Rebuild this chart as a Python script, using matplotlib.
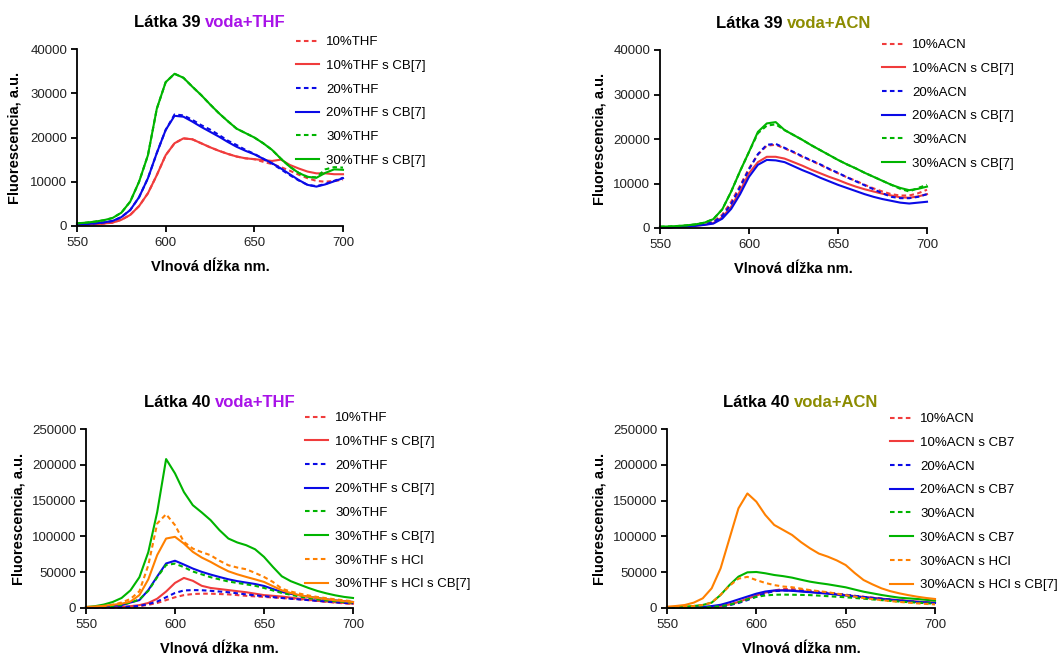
import matplotlib
matplotlib.use("Agg")
import matplotlib.pyplot as plt
import numpy as np

plt.rcParams['font.family'] = ['Liberation Sans', 'DejaVu Sans']

# ---------------- data ----------------
wl = [550, 555, 560, 565, 570, 575, 580, 585, 590, 595, 600, 605, 610, 615, 620, 625,
      630, 635, 640, 645, 650, 655, 660, 665, 670, 675, 680, 685, 690, 695, 700]

# Látka 39, voda+THF
l39thf_10 = [200, 300, 400, 550, 750, 1400, 2500, 4500, 7400, 11500, 16000, 18700, 19800, 19600, 18700, 17800,
             17000, 16300, 15700, 15300, 15100, 14500, 14000, 13300, 12500, 11600, 10800, 10200, 10000, 10200, 10400]
l39thf_10cb = [200, 300, 400, 550, 750, 1400, 2500, 4500, 7400, 11500, 16000, 18700, 19800, 19600, 18700, 17800,
               17000, 16300, 15700, 15300, 15100, 14900, 14700, 15000, 13800, 13000, 12300, 11900, 11900, 11700, 11700]
l39thf_20 = [380, 450, 600, 800, 1130, 2000, 3600, 6500, 10800, 16500, 21700, 25200, 25000, 24000, 22800, 21800,
             20600, 19300, 18300, 17200, 16300, 15200, 14100, 12800, 11500, 10300, 9300, 9000, 9500, 10200, 10900]
l39thf_20cb = [380, 450, 600, 800, 1130, 2000, 3600, 6500, 10800, 16500, 21700, 24900, 24700, 23600, 22400, 21300,
               20200, 19000, 17900, 17000, 16200, 15200, 14200, 13000, 11700, 10400, 9300, 8900, 9400, 10100, 10800]
l39thf_30 = [600, 750, 980, 1300, 1800, 3000, 5500, 10000, 16000, 26500, 32500, 34400, 33500, 31500, 29600, 27500,
             25500, 23700, 22000, 21000, 20000, 18700, 17200, 15200, 13400, 12000, 11100, 11000, 12800, 13300, 13200]
l39thf_30cb = [600, 750, 980, 1300, 1800, 3000, 5500, 10000, 16000, 26500, 32500, 34400, 33500, 31500, 29600, 27500,
               25500, 23700, 22000, 21000, 20000, 18700, 17200, 15200, 13400, 12000, 11100, 10900, 12000, 12800, 12700]

# Látka 39, voda+ACN
l39acn_10 = [100, 150, 300, 400, 600, 900, 1400, 3000, 5900, 9500, 13400, 16500, 18500, 18700, 17900, 17000,
             16000, 15100, 14200, 13200, 12300, 11400, 10600, 9700, 8900, 8200, 7600, 7300, 7300, 7800, 8600]
l39acn_10cb = [100, 150, 250, 350, 500, 750, 1100, 2400, 4800, 8300, 12300, 14800, 16000, 16000, 15600, 14800,
               14000, 13100, 12300, 11500, 10800, 10000, 9300, 8700, 8200, 7700, 7300, 6900, 6800, 7100, 7600]
l39acn_20 = [100, 150, 250, 400, 550, 850, 1300, 2700, 5400, 9200, 13200, 16600, 18700, 18900, 18000, 17100,
             16100, 15200, 14300, 13300, 12400, 11400, 10500, 9600, 8700, 7800, 7000, 6700, 6700, 7000, 7600]
l39acn_20cb = [100, 150, 250, 350, 500, 700, 1000, 2100, 4300, 7600, 11500, 14200, 15300, 15200, 14800, 13900,
               13000, 12200, 11300, 10500, 9700, 9000, 8300, 7600, 7000, 6500, 6100, 5700, 5500, 5700, 5900]
l39acn_30 = [300, 350, 450, 600, 820, 1200, 2000, 4200, 8200, 12800, 17100, 21300, 23000, 23300, 22000, 20900,
             19800, 18600, 17500, 16400, 15300, 14300, 13400, 12400, 11500, 10600, 9700, 8800, 8200, 9000, 9700]
l39acn_30cb = [300, 350, 450, 600, 820, 1200, 2000, 4200, 8200, 12800, 17100, 21600, 23500, 23800, 22000, 20900,
               19800, 18600, 17500, 16400, 15300, 14300, 13400, 12400, 11500, 10600, 9700, 9000, 8500, 8800, 9300]

# Látka 40, voda+THF
l40thf_10 = [200, 300, 500, 700, 1000, 1600, 2500, 4500, 7000, 11000, 15000, 18000, 19500, 20000, 20000, 19500,
             19000, 18000, 17000, 16200, 15500, 14700, 14000, 13000, 12000, 11000, 10000, 8700, 7500, 6500, 5500]
l40thf_10cb = [300, 500, 800, 1100, 1500, 2500, 4000, 7000, 13000, 23000, 35000, 42000, 38000, 31000, 28000, 26500,
               25000, 23500, 22000, 20000, 18000, 17000, 16000, 14500, 13000, 11500, 10000, 9000, 8000, 7000, 6000]
l40thf_20 = [300, 400, 600, 900, 1200, 2000, 3000, 5500, 9000, 15000, 21000, 24500, 25000, 24800, 24000, 23000,
             22000, 20500, 19000, 17700, 16500, 15200, 14000, 13000, 12000, 11000, 10000, 9000, 8000, 7200, 6500]
l40thf_20cb = [700, 1200, 2000, 3000, 4000, 7700, 11000, 25000, 44000, 62200, 66000, 60700, 55100, 50500, 46700, 43300,
               40100, 37500, 35500, 33500, 30800, 26500, 22400, 19800, 17700, 15700, 14000, 12200, 10700, 9500, 8400]
l40thf_30 = [700, 1200, 2000, 3000, 4500, 7500, 12000, 24000, 43000, 60000, 62000, 57000, 51000, 47000, 43000, 40000,
             37000, 35000, 33000, 31000, 28000, 24500, 21000, 18500, 16000, 14000, 12000, 10700, 9500, 8500, 7500]
l40thf_30cb = [1300, 2500, 4800, 8400, 14000, 24700, 43000, 78000, 134000, 208000, 188000, 162000, 143600, 133500, 122700, 108700,
               97000, 91500, 87700, 82000, 71400, 57400, 44300, 37500, 32700, 28000, 23800, 20500, 17700, 15500, 14000]
l40thf_30hcl = [1000, 1500, 2500, 4500, 7700, 12700, 23400, 59700, 118000, 131000, 115700, 92300, 83000, 78000, 73700, 66000,
                59700, 56500, 54100, 49000, 43400, 36400, 27000, 23000, 20100, 17500, 15400, 13700, 12100, 10700, 9400]
l40thf_30hclcb = [1500, 2000, 3000, 4500, 6000, 9000, 18000, 40000, 74000, 97000, 99400, 90000, 78400, 70500, 64400, 57500,
                  51300, 47000, 43400, 40000, 36400, 30500, 24700, 21000, 17800, 15800, 14000, 12300, 10700, 9500, 8400]

# Látka 40, voda+ACN
l40acn_10 = [100, 200, 300, 450, 700, 1300, 2200, 4500, 8000, 12500, 17000, 21500, 24500, 26500, 26500, 25500,
             24500, 23000, 21500, 20000, 18500, 17000, 15500, 14200, 13000, 11700, 10500, 9200, 8000, 7200, 6500]
l40acn_10cb = [100, 200, 300, 500, 800, 1500, 2500, 5000, 8500, 13000, 17500, 21500, 24000, 25000, 24500, 23500,
               22500, 21500, 20500, 19200, 18000, 16700, 15500, 14200, 13000, 12000, 11000, 10000, 9000, 8200, 7500]
l40acn_20 = [100, 200, 300, 450, 700, 1200, 2000, 4000, 7000, 11000, 16000, 20500, 23500, 24500, 24500, 23800,
             23000, 22000, 21000, 19700, 18500, 17000, 15500, 14200, 13000, 11700, 10500, 9500, 8500, 7700, 7000]
l40acn_20cb = [200, 300, 500, 900, 1500, 2700, 4500, 8000, 12000, 16000, 20000, 23000, 24500, 24500, 24000, 23000,
               22000, 21000, 20000, 18700, 17500, 16200, 15000, 13700, 12500, 11500, 10500, 9500, 8500, 7700, 7000]
l40acn_30 = [100, 200, 300, 500, 800, 1400, 2500, 4500, 8000, 12000, 15500, 17500, 18500, 18700, 18500, 18300,
             18000, 17300, 16500, 15700, 15000, 14000, 13000, 12000, 11000, 10000, 9000, 8200, 7500, 6700, 6000]
l40acn_30cb = [800, 1200, 1900, 2800, 4200, 7500, 18200, 32100, 43800, 49800, 50300, 48500, 46100, 44500, 42400, 39500,
               36800, 34800, 33100, 31000, 28900, 25800, 22800, 20500, 18200, 16200, 14400, 13500, 12600, 11400, 10200]
l40acn_30hcl = [800, 1200, 1900, 2800, 4200, 7500, 18500, 31000, 41000, 43500, 39000, 35000, 32000, 30000, 29000, 27000,
                25000, 23500, 22000, 20000, 18000, 16000, 14000, 12500, 11000, 9700, 8500, 7500, 6500, 5700, 5000]
l40acn_30hclcb = [1800, 2800, 4200, 7500, 13500, 27500, 55400, 97300, 139200, 160000, 148500, 130000, 116000, 109000, 102000, 92000,
                  83400, 76000, 71700, 66500, 60000, 49000, 39100, 33000, 27500, 23500, 20500, 18000, 15800, 14000, 12600]

labels_39thf = ["10%THF", "10%THF s CB[7]", "20%THF", "20%THF s CB[7]", "30%THF", "30%THF s CB[7]"]
labels_39acn = ["10%ACN", "10%ACN s CB[7]", "20%ACN", "20%ACN s CB[7]", "30%ACN", "30%ACN s CB[7]"]
labels_40thf = ["10%THF", "10%THF s CB[7]", "20%THF", "20%THF s CB[7]", "30%THF", "30%THF s CB[7]",
                "30%THF s HCl", "30%THF s HCl s CB[7]"]
labels_40acn = ["10%ACN", "10%ACN s CB7", "20%ACN", "20%ACN s CB7", "30%ACN", "30%ACN s CB7",
                "30%ACN s HCl", "30%ACN s HCl s CB[7]"]

x_ticks = [550, 600, 650, 700]
y_ticks_39 = [0, 10000, 20000, 30000, 40000]
y_ticks_40 = [0, 50000, 100000, 150000, 200000, 250000]

# ---------------- styles ----------------
RED = '#F03C3C'
BLUE = '#0A0AE6'
GREEN = '#00B400'
ORANGE = '#FF8000'
colors = [RED, RED, BLUE, BLUE, GREEN, GREEN, ORANGE, ORANGE]
dashed = [True, False, True, False, True, False, True, False]
PURPLE = '#A812E8'
OLIVE = '#8C8C00'

W, H = 1064, 655
fig = plt.figure(figsize=(W / 100, H / 100), dpi=100)


def px_axes(l, r, t, b):
    return fig.add_axes([l / W, 1 - b / H, (r - l) / W, (b - t) / H])


panels = [
    dict(box=(77, 343, 49, 226), series=[l39thf_10, l39thf_10cb, l39thf_20, l39thf_20cb, l39thf_30, l39thf_30cb],
         labels=labels_39thf, yt=y_ticks_39, title=("Látka 39 ", "voda+THF", PURPLE), leg=(296, 36),
         ylab_x=22),
    dict(box=(660, 927, 50, 228), series=[l39acn_10, l39acn_10cb, l39acn_20, l39acn_20cb, l39acn_30, l39acn_30cb],
         labels=labels_39acn, yt=y_ticks_39, title=("Látka 39 ", "voda+ACN", OLIVE), leg=(882, 39),
         ylab_x=607),
    dict(box=(86, 353, 429, 608), series=[l40thf_10, l40thf_10cb, l40thf_20, l40thf_20cb, l40thf_30, l40thf_30cb,
                                          l40thf_30hcl, l40thf_30hclcb],
         labels=labels_40thf, yt=y_ticks_40, title=("Látka 40 ", "voda+THF", PURPLE), leg=(305, 412),
         ylab_x=25),
    dict(box=(667, 935, 429, 608), series=[l40acn_10, l40acn_10cb, l40acn_20, l40acn_20cb, l40acn_30, l40acn_30cb,
                                           l40acn_30hcl, l40acn_30hclcb],
         labels=labels_40acn, yt=y_ticks_40, title=("Látka 40 ", "voda+ACN", OLIVE), leg=(890, 413),
         ylab_x=607),
]

FS_TICK = 9.5
FS_LAB = 10.5
FS_TITLE = 12

title_pairs = []
for p in panels:
    l, r, t, b = p['box']
    ax = px_axes(l, r, t, b)
    for i, (ser, lab) in enumerate(zip(p['series'], p['labels'])):
        ls = (0, (2.2, 1.6)) if dashed[i] else '-'
        ax.plot(wl, ser, color=colors[i], lw=1.5, ls=ls, label=lab, clip_on=False)
    ax.set_xlim(550, 700)
    ax.set_ylim(0, p['yt'][-1])
    ax.set_xticks(x_ticks)
    ax.set_yticks(p['yt'])
    for s in ['top', 'right']:
        ax.spines[s].set_visible(False)
    for s in ['left', 'bottom']:
        ax.spines[s].set_linewidth(1.3)
    ax.tick_params(axis='both', direction='out', length=4, width=1.3, labelsize=FS_TICK, color='black',
                   labelcolor='#222222')
    ax.tick_params(axis='x', pad=4)
    ax.tick_params(axis='y', pad=3)
    ax.set_xlabel("Vlnová dĺžka nm.", fontsize=FS_LAB, fontweight='bold', labelpad=8)
    ax.set_ylabel("Fluorescencia, a.u.", fontsize=FS_LAB, fontweight='bold')
    ax.yaxis.set_label_coords((p['ylab_x'] - l) / (r - l), 0.5)
    lx, ly = p['leg']
    ax.legend(loc='upper left', bbox_to_anchor=(lx / W, 1 - ly / H), bbox_transform=fig.transFigure,
              frameon=False, fontsize=FS_TICK, handlelength=1.75, handletextpad=0.55, labelspacing=0.87,
              borderpad=0, borderaxespad=0)
    # title in two colours
    t1 = ax.text(0.5, 1.0, p['title'][0], transform=ax.transAxes, fontsize=FS_TITLE, fontweight='bold',
                 ha='left', va='baseline', color='black')
    t2 = ax.annotate(p['title'][1], xy=(1, 0), xycoords=t1, fontsize=FS_TITLE, fontweight='bold',
                     ha='left', va='bottom', color=p['title'][2])
    title_pairs.append((ax, t1, t2, (l + r) / 2, t - 22))

fig.canvas.draw()
renderer = fig.canvas.get_renderer()
for ax, t1, t2, cx, base_y in title_pairs:
    e1 = t1.get_window_extent(renderer)
    e2 = t2.get_window_extent(renderer)
    total = e2.x1 - e1.x0
    x0 = cx - total / 2
    inv = ax.transAxes.inverted()
    ax_xy = inv.transform((x0, H - base_y))
    t1.set_position((ax_xy[0], ax_xy[1]))

fig.savefig("out.png", dpi=100)
